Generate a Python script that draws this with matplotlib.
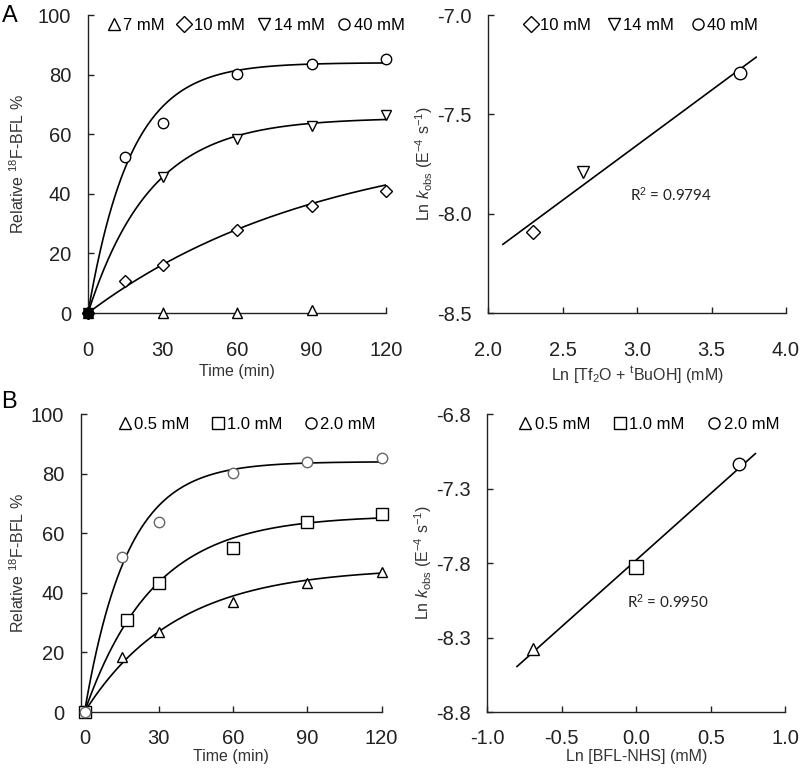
import numpy as np
import matplotlib
matplotlib.use("Agg")
import matplotlib.pyplot as plt
from matplotlib.lines import Line2D

plt.rcParams['font.family'] = ['Liberation Sans', 'DejaVu Sans']
plt.rcParams['mathtext.fontset'] = 'custom'
plt.rcParams['mathtext.rm'] = 'Liberation Sans'
plt.rcParams['mathtext.it'] = 'Liberation Sans:italic'
plt.rcParams['axes.unicode_minus'] = False

# panel A, left: yield vs time for Tf2O/tBuOH concentrations
t_7mM = [0, 30, 60, 90]
y_7mM = [0, 0, 0, 0.9]
t_10mM = [0, 15, 30, 60, 90, 120]
y_10mM = [0, 10.6, 16.2, 27.9, 35.8, 41.0]
t_14mM = [0, 30, 60, 90, 120]
y_14mM = [0, 45.5, 58.3, 62.9, 66.3]
t_40mM = [0, 15, 30, 60, 90, 120]
y_40mM = [0, 52.2, 63.7, 80.2, 83.5, 85.3]
# fitted plateau / rate
fit_a = {'10 mM': (60, 0.0105), '14 mM': (65.5, 0.0397), '40 mM': (84, 0.058)}

# panel A, right
lnconc_a = [2.303, 2.639, 3.689]
lnk_a = [-8.093, -7.788, -7.29]

# panel B, left: yield vs time for BFL-NHS concentrations
t_05 = [0, 15, 30, 60, 90, 120]
y_05 = [0, 18.5, 26.9, 37.0, 43.3, 47.0]
t_10 = [0, 17, 30, 60, 90, 120]
y_10 = [0, 31.0, 43.4, 54.9, 63.8, 66.4]
t_20 = [0, 15, 30, 60, 90, 120]
y_20 = [0, 52.0, 63.8, 80.3, 83.8, 85.3]
fit_b = {'0.5 mM': (48.5, 0.0271), '1.0 mM': (66, 0.036), '2.0 mM': (84, 0.058)}

# panel B, right
lnconc_b = [-0.693, 0.0, 0.693]
lnk_b = [-8.374, -7.83, -7.136]

ylab_left = 'Relative $^{18}$F-BFL %'
ylab_right = 'Ln $\\mathit{k}_{\\mathrm{obs}}$ (E$^{-4}$ s$^{-1}$)'

fig = plt.figure(figsize=(8, 7.71), dpi=100)


def style(ax, xpad):
    for s in ['top', 'right']:
        ax.spines[s].set_visible(False)
    for s in ['left', 'bottom']:
        ax.spines[s].set_linewidth(1.0)
        ax.spines[s].set_color('#222222')
    ax.tick_params(direction='in', length=4, width=1, labelsize=14.5, colors='#222222')
    ax.tick_params(axis='x', pad=xpad)
    ax.tick_params(axis='y', pad=12)


def ylab(ax, text, xpos):
    ax.set_ylabel(text, fontsize=11.5, color='#333333')
    ax.yaxis.label.set_va('center')
    ax.yaxis.set_label_coords(xpos, 0.5)


def mk(marker, size=7, edge='black'):
    return dict(marker=marker, ms=size, mfc='white', mec=edge, mew=1.0, ls='none',
                clip_on=False)


def leg(ax, items, spacing, cx=0.55):
    handles = [Line2D([], [], **mk(m, 8, e)) for m, e, _ in items]
    labels = [lab for _, _, lab in items]
    ax.legend(handles, labels, loc='upper center', bbox_to_anchor=(cx, 1.025),
              ncol=len(items), frameon=False, fontsize=12, handletextpad=0.05,
              columnspacing=spacing, handlelength=1.0, borderaxespad=0.2)


tt = np.linspace(0, 120, 300)

# ---- A left
ax1 = fig.add_axes([0.110, 0.594, 0.3725, 0.3865])
style(ax1, 20)
for lab, (A, k) in fit_a.items():
    ax1.plot(tt, A * (1 - np.exp(-k * tt)), color='black', lw=1.2, zorder=2)
ax1.plot(t_7mM, y_7mM, **mk('^', 7), zorder=3)
ax1.plot(t_10mM, y_10mM, **mk('D', 6), zorder=3)
ax1.plot(t_14mM, y_14mM, **mk('v', 7.5), zorder=3)
ax1.plot(t_40mM, y_40mM, **mk('o', 7.5), zorder=3)
ax1.plot([0], [0], 's', color='black', ms=6, zorder=4, clip_on=False)
ax1.set_xlim(0, 120)
ax1.set_ylim(0, 100)
ax1.set_xticks([0, 30, 60, 90, 120])
ax1.set_yticks([0, 20, 40, 60, 80, 100])
ax1.set_xlabel('Time (min)', fontsize=11.5, color='#333333', labelpad=3)
ylab(ax1, ylab_left, -0.235)
leg(ax1, [('^', 'black', '7 mM'), ('D', 'black', '10 mM'),
          ('v', 'black', '14 mM'), ('o', 'black', '40 mM')], 0.7, 0.56)

# ---- A right
ax2 = fig.add_axes([0.610, 0.594, 0.3725, 0.3865])
style(ax2, 20)
slope, icpt = np.polyfit(lnconc_a, lnk_a, 1)
xl = np.array([2.1, 3.8])
ax2.plot(xl, slope * xl + icpt, color='black', lw=1.2)
ax2.plot(lnconc_a[0], lnk_a[0], **mk('D', 7.5))
ax2.plot(lnconc_a[1], lnk_a[1], **mk('v', 9))
ax2.plot(lnconc_a[2], lnk_a[2], **mk('o', 9))
ax2.set_xlim(2.0, 4.0)
ax2.set_ylim(-8.5, -7.0)
ax2.set_xticks([2.0, 2.5, 3.0, 3.5, 4.0])
ax2.set_yticks([-8.5, -8.0, -7.5, -7.0])
ax2.xaxis.set_major_formatter('{x:.1f}')
ax2.yaxis.set_major_formatter('{x:.1f}')
ax2.set_xlabel('Ln [Tf$_2$O + $^{\\mathrm{t}}$BuOH] (mM)', fontsize=11.5, color='#333333', labelpad=3)
ylab(ax2, ylab_right, -0.215)
ax2.text(0.614, 0.396, 'R$^2$ = 0.9794', transform=ax2.transAxes, fontsize=11,
         family='Lato', ha='center', va='center', color='#222222')
leg(ax2, [('D', 'black', '10 mM'), ('v', 'black', '14 mM'), ('o', 'black', '40 mM')], 0.9, 0.51)

# ---- B left
ax3 = fig.add_axes([0.101, 0.0765, 0.376, 0.3865])
style(ax3, 12)
for lab, (A, k) in fit_b.items():
    ax3.plot(tt, A * (1 - np.exp(-k * tt)), color='black', lw=1.2, zorder=2)
ax3.plot(t_05, y_05, **mk('^', 7.5), zorder=3)
ax3.plot(t_10, y_10, **mk('s', 8), zorder=3)
ax3.plot(t_20, y_20, **mk('o', 7.5, '#666666'), zorder=3)
ax3.set_xlim(-1.5, 120)
ax3.set_ylim(0, 100)
ax3.set_xticks([0, 30, 60, 90, 120])
ax3.set_yticks([0, 20, 40, 60, 80, 100])
ax3.set_xlabel('Time (min)', fontsize=11.5, color='#333333', labelpad=1)
ylab(ax3, ylab_left, -0.21)
leg(ax3, [('^', 'black', '0.5 mM'), ('s', 'black', '1.0 mM'), ('o', 'black', '2.0 mM')], 1.2, 0.55)

# ---- B right
ax4 = fig.add_axes([0.609, 0.0765, 0.3725, 0.3865])
style(ax4, 12)
slope, icpt = np.polyfit(lnconc_b, lnk_b, 1)
xl = np.array([-0.8, 0.8])
ax4.plot(xl, slope * xl + icpt, color='black', lw=1.2)
ax4.plot(lnconc_b[0], lnk_b[0], **mk('^', 9))
ax4.plot(lnconc_b[1], lnk_b[1], **mk('s', 10))
ax4.plot(lnconc_b[2], lnk_b[2], **mk('o', 9))
ax4.set_xlim(-1.0, 1.0)
ax4.set_ylim(-8.8, -6.8)
ax4.set_xticks([-1.0, -0.5, 0.0, 0.5, 1.0])
ax4.set_yticks([-8.8, -8.3, -7.8, -7.3, -6.8])
ax4.xaxis.set_major_formatter('{x:.1f}')
ax4.yaxis.set_major_formatter('{x:.1f}')
ax4.set_xlabel('Ln [BFL-NHS] (mM)', fontsize=11.5, color='#333333', labelpad=1)
ylab(ax4, ylab_right, -0.215)
ax4.text(0.606, 0.369, 'R$^2$ = 0.9950', transform=ax4.transAxes, fontsize=11,
         family='Lato', ha='center', va='center', color='#222222')
leg(ax4, [('^', 'black', '0.5 mM'), ('s', 'black', '1.0 mM'), ('o', 'black', '2.0 mM')], 1.3, 0.54)

fig.text(0.002, 0.993, 'A', fontsize=17, va='top', ha='left')
fig.text(0.002, 0.493, 'B', fontsize=17, va='top', ha='left')

fig.savefig('out.png', dpi=100)
